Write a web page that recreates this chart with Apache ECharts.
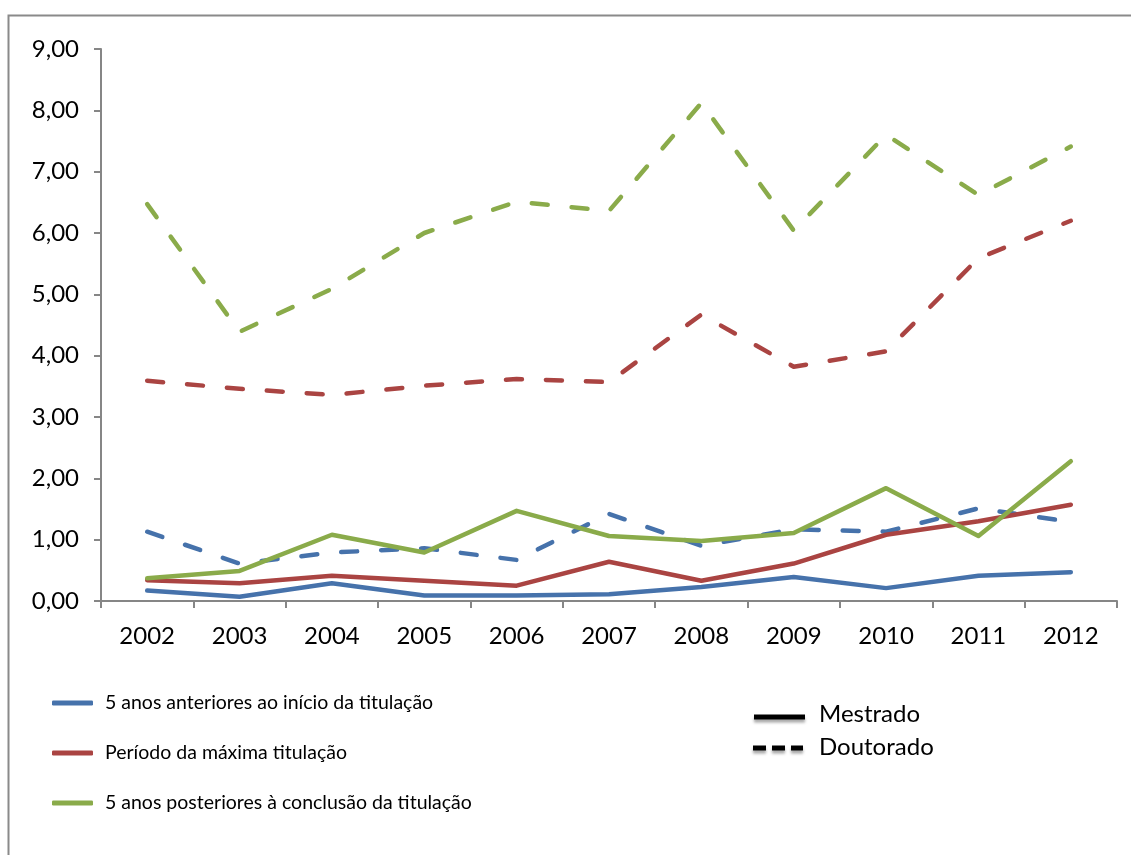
<!DOCTYPE html>
<html>
<head>
<meta charset="utf-8">
<script src="https://cdn.jsdelivr.net/npm/echarts@6/dist/echarts.min.js"></script>
<style>html,body{margin:0;padding:0;background:#fff;}#c{width:1131px;height:855px;}</style>
</head>
<body>
<div id="c"></div>
<script>
const years = ['2002','2003','2004','2005','2006','2007','2008','2009','2010','2011','2012'];
const yTicks = [0, 1, 2, 3, 4, 5, 6, 7, 8, 9];
const groupNames = ['5 anos anteriores ao início da titulação', 'Período da máxima titulação', '5 anos posteriores à conclusão da titulação'];
const levelNames = ['Mestrado', 'Doutorado'];
// Mestrado (solid)
const anterioresMestrado = [0.17, 0.07, 0.29, 0.09, 0.09, 0.11, 0.23, 0.39, 0.21, 0.41, 0.47];
const periodoMestrado    = [0.34, 0.29, 0.41, 0.33, 0.25, 0.64, 0.33, 0.61, 1.08, 1.30, 1.57];
const posterioresMestrado= [0.37, 0.49, 1.08, 0.79, 1.47, 1.06, 0.98, 1.11, 1.84, 1.06, 2.28];
// Doutorado (dashed)
const anterioresDoutorado = [1.13, 0.61, 0.79, 0.86, 0.67, 1.42, 0.90, 1.17, 1.13, 1.51, 1.29];
const periodoDoutorado    = [3.59, 3.46, 3.36, 3.51, 3.62, 3.57, 4.67, 3.82, 4.07, 5.59, 6.20];
const posterioresDoutorado= [6.47, 4.39, 5.09, 6.00, 6.51, 6.36, 8.12, 6.04, 7.60, 6.62, 7.41];

const colors = ['#4672AB', '#AA4442', '#8AAB4A'];
const FONT = 'Lato';

function mk(name, data, color, dashed) {
  return {
    name: name, type: 'line', data: data, symbol: 'none', silent: true,
    lineStyle: { color: color, width: 4.5, type: dashed ? [16, 24] : 'solid', cap: 'round', join: 'round' },
    itemStyle: { color: color },
    z: dashed ? 2 : 3
  };
}

const chart = echarts.init(document.getElementById('c'), null, { renderer: 'canvas' });
chart.setOption({
  animation: false,
  backgroundColor: '#fff',
  grid: { left: 101, right: 14, top: 49, bottom: 254, containLabel: false },
  xAxis: {
    type: 'category', data: years, boundaryGap: true,
    axisLine: { lineStyle: { color: '#868686', width: 2 } },
    axisTick: { show: true, length: 7, alignWithLabel: false, lineStyle: { color: '#868686', width: 2 } },
    axisLabel: { color: '#000', fontFamily: FONT, fontSize: 24, margin: 23 },
    splitLine: { show: false }
  },
  yAxis: {
    type: 'value', min: yTicks[0], max: yTicks[yTicks.length - 1], interval: 1,
    axisLine: { show: true, lineStyle: { color: '#868686', width: 2 } },
    axisTick: { show: true, length: 7, lineStyle: { color: '#868686', width: 2 } },
    axisLabel: { color: '#000', fontFamily: FONT, fontSize: 24, margin: 22,
      formatter: v => v.toFixed(2).replace('.', ',') },
    splitLine: { show: false }
  },
  legend: {
    data: groupNames.map((n, i) => ({ name: n, icon: 'roundRect', itemStyle: { color: colors[i] } })),
    orient: 'vertical', left: 47, top: 686,
    itemWidth: 41, itemHeight: 5, itemGap: 26,
    textStyle: { color: '#000', fontFamily: FONT, fontSize: 19.5, lineHeight: 24, padding: [0, 0, 0, 7] },
    selectedMode: false
  },
  series: [
    mk(groupNames[0], anterioresMestrado, colors[0], false),
    mk(groupNames[1], periodoMestrado, colors[1], false),
    mk(groupNames[2], posterioresMestrado, colors[2], false),
    mk(groupNames[0], anterioresDoutorado, colors[0], true),
    mk(groupNames[1], periodoDoutorado, colors[1], true),
    mk(groupNames[2], posterioresDoutorado, colors[2], true)
  ],
  graphic: [
    { type: 'rect', shape: { x: 8.5, y: 15.5, width: 1300, height: 1000 }, style: { fill: 'none', stroke: '#8a8a8a', lineWidth: 2 }, silent: true, z: -1 },
    { type: 'line', shape: { x1: 754, y1: 717, x2: 805, y2: 717 },
      style: { stroke: '#000', lineWidth: 5, shadowColor: 'rgba(0,0,0,0.35)', shadowBlur: 3, shadowOffsetY: 3 } },
    { type: 'line', shape: { x1: 753, y1: 748, x2: 803, y2: 748 },
      style: { stroke: '#000', lineWidth: 5, lineDash: [13, 6], shadowColor: 'rgba(0,0,0,0.35)', shadowBlur: 3, shadowOffsetY: 3 } },
    { type: 'text', left: 819, top: 702, style: { text: levelNames[0], font: '24px ' + FONT, fill: '#000' } },
    { type: 'text', left: 819, top: 735, style: { text: levelNames[1], font: '24px ' + FONT, fill: '#000' } }
  ]
});
</script>
</body>
</html>
